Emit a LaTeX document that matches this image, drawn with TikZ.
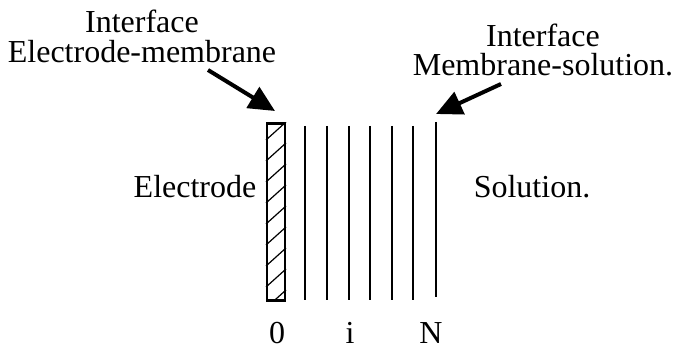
\documentclass[tikz,border=0pt]{standalone}
\usepackage{fontspec}
\setmainfont{Liberation Serif}
\usetikzlibrary{arrows.meta}
\begin{document}
\begin{tikzpicture}[x=1pt,y=-1pt,
  lbl/.style={font=\fontsize{32}{34}\selectfont, inner sep=0pt, align=center},
  layer/.style={line width=2.4pt},
  pointer/.style={line width=4pt, -{Triangle[length=26pt,width=24pt]}}]
\useasboundingbox (0,0) rectangle (676,355);
% electrode with hatching
\node[draw, line width=2.6pt, minimum width=18pt, minimum height=177pt, inner sep=0pt] (el) at (276,212) {};
\begin{scope}
\clip (el.south west) rectangle (el.north east);
\foreach \k in {0,...,9} {
  \draw[line width=1.2pt] (266,140+\k*21) -- (286,122+\k*21);
}
\end{scope}
% membrane layers
\foreach \x [count=\n] in {305,327,349,370,392,413} {
  \coordinate (t\n) at (\x,126);
  \coordinate (b\n) at (\x,300);
  \draw[layer] (t\n) -- (b\n);
}
\coordinate (tN) at (436,122);
\coordinate (bN) at (436,297);
\draw[layer] (tN) -- (bN);
% labels
\node[lbl, font=\fontsize{32}{30}\selectfont, anchor=base] (iem) at (142,63) {Interface\\Electrode-membrane};
\node[lbl, font=\fontsize{32}{29}\selectfont, anchor=base] (ims) at (543,76) {Interface\\Membrane-solution.};
\node[lbl, anchor=base] (elab) at (195,197) {Electrode};
\node[lbl, anchor=base] (sol) at (532,197) {Solution.};
\node[lbl, anchor=base] (n0) at (277,343) {0};
\node[lbl, anchor=base] (ni) at (350,343) {i};
\node[lbl, anchor=base] (nN) at (431,343) {N};
% arrows
\coordinate (a1s) at (208,70);
\coordinate (a1e) at (275,111);
\coordinate (a2s) at (501,84);
\coordinate (a2e) at (436,114);
\draw[pointer] (a1s) -- (a1e);
\draw[pointer] (a2s) -- (a2e);
\end{tikzpicture}
\end{document}
